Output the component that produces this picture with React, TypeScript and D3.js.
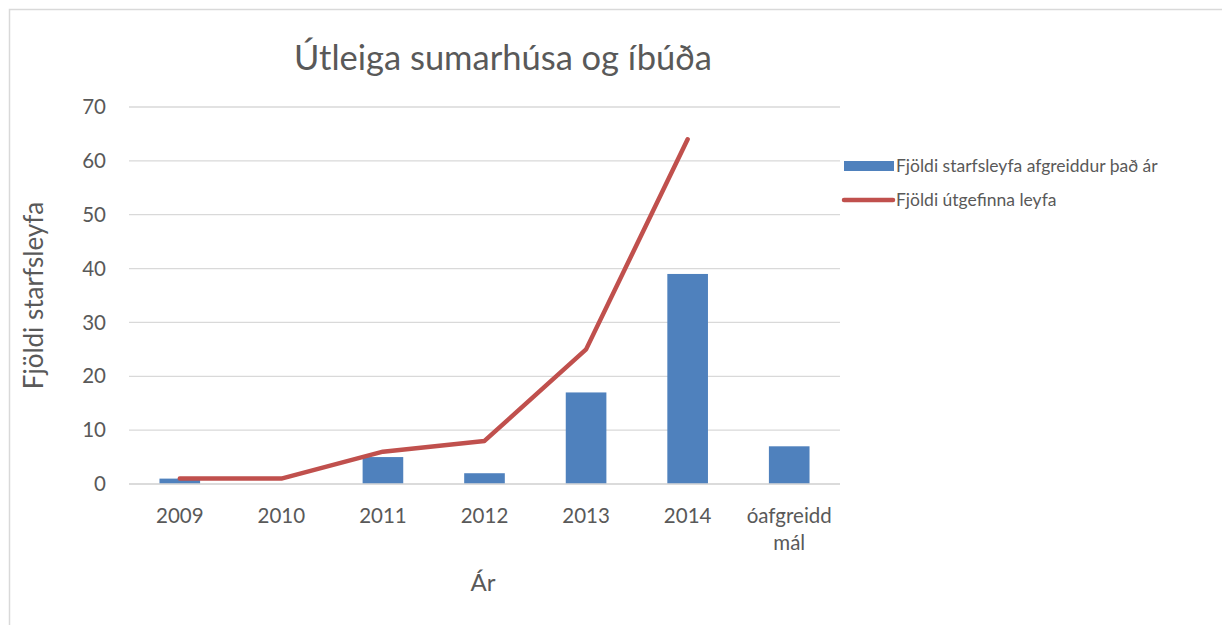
import React from 'react';
import * as d3 from 'd3';

const categories = ['2009', '2010', '2011', '2012', '2013', '2014', 'óafgreidd mál'];
const barValues = [1, 0, 5, 2, 17, 39, 7];
const lineValues = [1, 1, 6, 8, 25, 64];
const yTicks = [0, 10, 20, 30, 40, 50, 60, 70];
const barName = 'Fjöldi starfsleyfa afgreiddur það ár';
const lineName = 'Fjöldi útgefinna leyfa';

const W = 1222;
const H = 625;
const font = 'Lato, "Open Sans", sans-serif';

const App = () => {
  const margin = { left: 129, right: 840, top: 107, bottom: 484 };

  const x = d3.scaleBand<string>()
    .domain(categories)
    .range([margin.left, margin.right])
    .paddingInner(0.6)
    .paddingOuter(0.3);

  const xCenter = (c: string) => (x(c) as number) + x.bandwidth() / 2;

  const y = d3.scaleLinear().domain([0, 70]).range([margin.bottom, margin.top]);

  const line = d3.line<number>()
    .x((_, i) => xCenter(categories[i]))
    .y(d => y(d));

  return (
    <div style={{ position: 'absolute', left: 0, top: 0 }}>
      <svg width={W} height={H} style={{ display: 'block', background: '#fff' }}>
        <rect x={9.5} y={9.5} width={W} height={H} fill="none" stroke="#d9d9d9" strokeWidth={1.5} />

        <text x={503} y={70} textAnchor="middle" fontFamily={font} fontSize={34.5} fill="#595959">
          Útleiga sumarhúsa og íbúða
        </text>

        {/* gridlines and y ticks */}
        {yTicks.map(t => (
          <g key={t}>
            <line x1={margin.left} x2={margin.right} y1={y(t)} y2={y(t)} stroke="#d9d9d9" strokeWidth={1.3} />
            <text x={106} y={y(t)} dy="0.35em" textAnchor="end" fontFamily={font} fontSize={20.5} fill="#595959">
              {t}
            </text>
          </g>
        ))}

        {/* bars */}
        {categories.map((c, i) => (
          <rect
            key={c}
            x={x(c)}
            y={y(barValues[i])}
            width={x.bandwidth()}
            height={margin.bottom - y(barValues[i])}
            fill="#4f81bd"
          />
        ))}

        <line x1={margin.left} x2={margin.right} y1={y(0)} y2={y(0)} stroke="#d9d9d9" strokeWidth={1.3} />

        {/* line series */}
        <path d={line(lineValues) || ''} fill="none" stroke="#c0504d" strokeWidth={4.5} strokeLinecap="round" strokeLinejoin="round" />

        {/* x labels */}
        {categories.map(c => {
          const parts = c === 'óafgreidd mál' ? ['óafgreidd', 'mál'] : [c];
          return (
            <text key={c} x={xCenter(c)} y={523} textAnchor="middle" fontFamily={font} fontSize={20.5} fill="#595959">
              {parts.map((p, j) => (
                <tspan key={p} x={xCenter(c)} dy={j === 0 ? 0 : 27}>{p}</tspan>
              ))}
            </text>
          );
        })}

        {/* axis titles */}
        <text x={483} y={591} textAnchor="middle" fontFamily={font} fontSize={24} fill="#595959">Ár</text>
        <text
          transform={`translate(43, ${(margin.top + margin.bottom) / 2} ) rotate(-90)`}
          textAnchor="middle"
          fontFamily={font}
          fontSize={26}
          fill="#595959"
        >
          Fjöldi starfsleyfa
        </text>

        {/* legend */}
        <rect x={844} y={161} width={50} height={10} fill="#4f81bd" />
        <text x={896} y={166} dy="0.35em" fontFamily={font} fontSize={17.5} fill="#595959">{barName}</text>
        <line x1={844} x2={893} y1={200} y2={200} stroke="#c0504d" strokeWidth={4.5} strokeLinecap="round" />
        <text x={896} y={200} dy="0.35em" fontFamily={font} fontSize={17.5} fill="#595959">{lineName}</text>
      </svg>
    </div>
  );
};

export default App;
